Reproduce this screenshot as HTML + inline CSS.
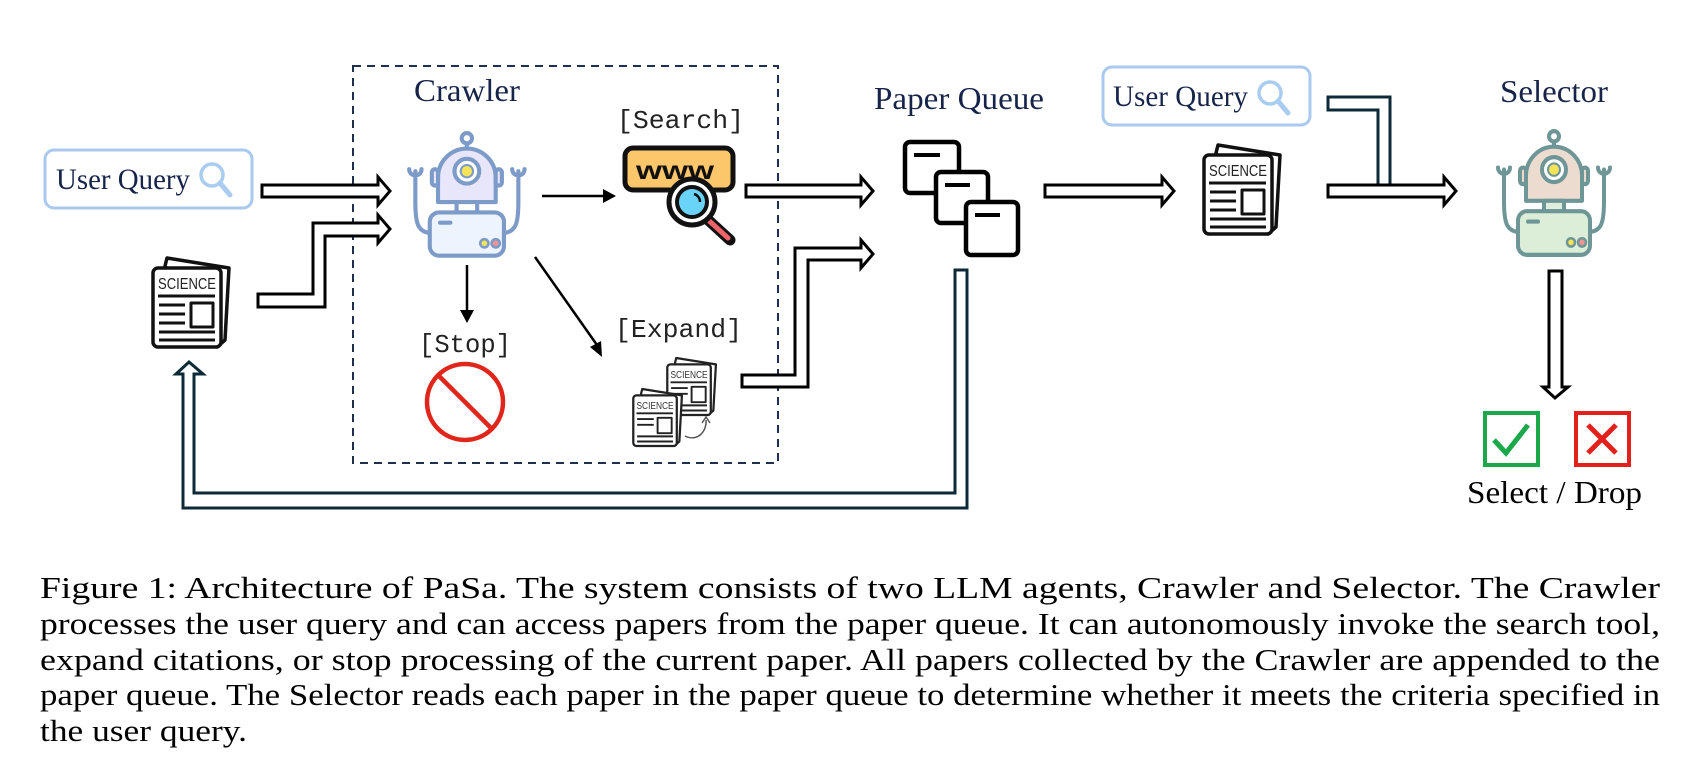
<!DOCTYPE html>
<html><head><meta charset="utf-8"><style>
html,body{margin:0;padding:0;background:#fff;}
svg{display:block;}
</style></head><body>
<svg width="1696" height="784" viewBox="0 0 1696 784" xmlns="http://www.w3.org/2000/svg">
<rect width="1696" height="784" fill="#fff"/>

<rect x="353" y="66" width="425" height="397" fill="none" stroke="#1f2f4f" stroke-width="2" stroke-dasharray="8,6"/>

<rect x="45" y="150" width="207" height="58" rx="9" fill="#fff" stroke="#a9c9ee" stroke-width="3"/>
<text x="56" y="189" font-family="Liberation Serif" font-size="30" fill="#16244a" textLength="134" lengthAdjust="spacingAndGlyphs">User Query</text>
<circle cx="212" cy="175" r="11" fill="none" stroke="#a9cdf0" stroke-width="3.5"/>
<line x1="220" y1="183" x2="230" y2="195" stroke="#a9cdf0" stroke-width="5" stroke-linecap="round"/>

<rect x="1103" y="67" width="207" height="58" rx="9" fill="#fff" stroke="#a9c9ee" stroke-width="3"/>
<text x="1113" y="106" font-family="Liberation Serif" font-size="30" fill="#16244a" textLength="135" lengthAdjust="spacingAndGlyphs">User Query</text>
<circle cx="1270" cy="93" r="11" fill="none" stroke="#a9cdf0" stroke-width="3.5"/>
<line x1="1278" y1="101" x2="1288" y2="113" stroke="#a9cdf0" stroke-width="5" stroke-linecap="round"/>

<text x="414" y="101" font-family="Liberation Serif" font-size="32" fill="#16244a" textLength="106" lengthAdjust="spacingAndGlyphs">Crawler</text>
<text x="874" y="109" font-family="Liberation Serif" font-size="32" fill="#16244a" textLength="170" lengthAdjust="spacingAndGlyphs">Paper Queue</text>
<text x="1500" y="102" font-family="Liberation Serif" font-size="32" fill="#16244a" textLength="108" lengthAdjust="spacingAndGlyphs">Selector</text>
<text x="1467" y="503" font-family="Liberation Serif" font-size="32" fill="#000" textLength="175" lengthAdjust="spacingAndGlyphs">Select / Drop</text>
<text x="617" y="128" font-family="Liberation Mono" font-size="26" fill="#222" textLength="127" lengthAdjust="spacingAndGlyphs">[Search]</text>
<text x="419" y="352" font-family="Liberation Mono" font-size="26" fill="#222" textLength="92" lengthAdjust="spacingAndGlyphs">[Stop]</text>
<text x="615" y="337" font-family="Liberation Mono" font-size="26" fill="#222" textLength="127" lengthAdjust="spacingAndGlyphs">[Expand]</text>

<g fill="#fff" stroke="#000" stroke-width="3" stroke-linejoin="miter">
<path d="M262,185 L378,185 L378,177 L390,191 L378,205 L378,197 L262,197 Z"/>
<path d="M258,294 L313,294 L313,223 L378,223 L378,215 L390,229 L378,243 L378,236 L325,236 L325,307 L258,307 Z"/>
<path d="M746,185 L861,185 L861,177 L873,191 L861,205 L861,197 L746,197 Z"/>
<path d="M742,375 L795,375 L795,248 L861,248 L861,240 L873,254 L861,268 L861,260 L808,260 L808,387 L742,387 Z"/>
<path d="M1045,185 L1162,185 L1162,177 L1174,191 L1162,205 L1162,197 L1045,197 Z"/>
<path d="M1328,97 L1390,97 L1390,185 L1378,185 L1378,110 L1328,110 Z" stroke="#0e2a38"/>
<path d="M1328,185 L1444,185 L1444,177 L1456,191 L1444,205 L1444,197 L1328,197 Z"/>
<path d="M1549,271 L1562,271 L1562,387 L1568,387 L1555,398 L1543,387 L1549,387 Z"/>
<path d="M955,270 L967,270 L967,508 L183,508 L183,374 L176,374 L189,362 L203,374 L194,374 L194,493 L955,493 Z" stroke="#0e2a38"/>
</g>

<g stroke="#000" stroke-width="2.5" fill="#000">
<line x1="542" y1="196" x2="605" y2="196"/><path d="M603,189 L616,196 L603,203 Z" stroke="none"/>
<line x1="467" y1="265" x2="467" y2="312"/><path d="M460,310 L467,323 L474,310 Z" stroke="none"/>
<line x1="535" y1="257" x2="597" y2="345"/><path d="M590,347 L602,357 L601,341 Z" stroke="none"/>
</g>

<g transform="translate(403,130) scale(1.03)" stroke="#7d9bc8" stroke-width="4" stroke-linejoin="round" stroke-linecap="round">
<circle cx="62" cy="8" r="5" fill="#fff"/>
<line x1="62" y1="13" x2="62" y2="20"/>
<path d="M34,70 L34,46 A28,28 0 0 1 90,46 L90,70 Z" fill="#e7e6fb"/>
<rect x="28" y="38" width="6" height="16" rx="3" fill="#e7e6fb"/>
<rect x="90" y="38" width="6" height="16" rx="3" fill="#e7e6fb"/>
<circle cx="62" cy="40" r="12" fill="#fff"/>
<circle cx="62" cy="40" r="6" fill="#f5e35a" stroke-width="2"/>
<rect x="52" y="70" width="20" height="10" fill="#fff"/>
<path d="M28,100 C14,100 12,90 12,70 L12,40 M6,38 C6,46 18,46 18,38" fill="none"/>
<path d="M96,100 C110,100 112,90 112,70 L112,40 M106,38 C106,46 118,46 118,38" fill="none"/>
<rect x="26" y="80" width="72" height="42" rx="9" fill="#eef4fd"/>
<line x1="36" y1="90" x2="46" y2="90"/>
<circle cx="79" cy="110" r="4" fill="#f5e35a" stroke-width="2.5"/>
<circle cx="90" cy="110" r="4" fill="#f29494" stroke-width="2.5"/>
</g>

<g transform="translate(1492,128) scale(1,1.04)" stroke="#6f9697" stroke-width="4" stroke-linejoin="round" stroke-linecap="round">
<circle cx="62" cy="8" r="5" fill="#fff"/>
<line x1="62" y1="13" x2="62" y2="20"/>
<path d="M34,70 L34,46 A28,28 0 0 1 90,46 L90,70 Z" fill="#ecdcd0"/>
<rect x="28" y="38" width="6" height="16" rx="3" fill="#ecdcd0"/>
<rect x="90" y="38" width="6" height="16" rx="3" fill="#ecdcd0"/>
<circle cx="62" cy="40" r="12" fill="#fff"/>
<circle cx="62" cy="40" r="6" fill="#f5e35a" stroke-width="2"/>
<rect x="52" y="70" width="20" height="10" fill="#dfeedd"/>
<path d="M28,100 C14,100 12,90 12,70 L12,40 M6,38 C6,46 18,46 18,38" fill="none"/>
<path d="M96,100 C110,100 112,90 112,70 L112,40 M106,38 C106,46 118,46 118,38" fill="none"/>
<rect x="26" y="80" width="72" height="42" rx="9" fill="#dcedd8"/>
<line x1="36" y1="90" x2="46" y2="90"/>
<circle cx="79" cy="110" r="4" fill="#f5e35a" stroke-width="2.5"/>
<circle cx="90" cy="110" r="4" fill="#f29494" stroke-width="2.5"/>
</g>

<g stroke="#111" stroke-width="5" stroke-linejoin="round">
<rect x="625" y="148" width="108" height="42" rx="8" fill="#fcc66a"/>
<text x="636" y="179" font-family="Liberation Sans" font-weight="bold" font-size="26" fill="#111" stroke="none" textLength="78" lengthAdjust="spacingAndGlyphs">www</text>
<line x1="706" y1="218" x2="730" y2="240" stroke="#111" stroke-width="11" stroke-linecap="round"/>
<line x1="706" y1="218" x2="728" y2="238" stroke="#f06469" stroke-width="5" stroke-linecap="round"/>
<circle cx="692" cy="202" r="23" fill="#fff"/>
<circle cx="692" cy="202" r="15" fill="#6ad3f8" stroke-width="4"/>
<path d="M694,194 A8,8 0 0 1 700,202" fill="none" stroke-width="2.5"/>
</g>

<circle cx="465" cy="402" r="38" fill="none" stroke="#e0261b" stroke-width="4.5"/>
<line x1="438" y1="375" x2="492" y2="429" stroke="#e0261b" stroke-width="4.5"/>

<g transform="translate(151,258)" stroke="#111" stroke-width="3.5" stroke-linejoin="round" fill="#fff">
<path d="M14,8 L16,0 L78,10 L74,82 L66,89 Z"/>
<rect x="2" y="10" width="68" height="79" rx="5"/>
<text x="7" y="31" font-family="Liberation Sans" font-size="16" fill="#222" stroke="none" textLength="58" lengthAdjust="spacingAndGlyphs">SCIENCE</text>
<line x1="7" y1="38" x2="64" y2="38" stroke-width="3"/>
<line x1="8" y1="47" x2="34" y2="47" stroke-width="3"/>
<line x1="8" y1="56" x2="34" y2="56" stroke-width="3"/>
<line x1="8" y1="65" x2="34" y2="65" stroke-width="3"/>
<rect x="40" y="45" width="22" height="24" stroke-width="3"/>
<line x1="8" y1="74" x2="64" y2="74" stroke-width="3"/>
<line x1="8" y1="82" x2="64" y2="82" stroke-width="3"/>
</g>

<g transform="translate(1202,145)" stroke="#111" stroke-width="3.5" stroke-linejoin="round" fill="#fff">
<path d="M14,8 L16,0 L78,10 L74,82 L66,89 Z"/>
<rect x="2" y="10" width="68" height="79" rx="5"/>
<text x="7" y="31" font-family="Liberation Sans" font-size="16" fill="#222" stroke="none" textLength="58" lengthAdjust="spacingAndGlyphs">SCIENCE</text>
<line x1="7" y1="38" x2="64" y2="38" stroke-width="3"/>
<line x1="8" y1="47" x2="34" y2="47" stroke-width="3"/>
<line x1="8" y1="56" x2="34" y2="56" stroke-width="3"/>
<line x1="8" y1="65" x2="34" y2="65" stroke-width="3"/>
<rect x="40" y="45" width="22" height="24" stroke-width="3"/>
<line x1="8" y1="74" x2="64" y2="74" stroke-width="3"/>
<line x1="8" y1="82" x2="64" y2="82" stroke-width="3"/>
</g>

<g transform="translate(666,358) scale(0.64)" stroke="#222" stroke-width="3.5" stroke-linejoin="round" fill="#fff">
<path d="M14,8 L16,0 L78,10 L74,82 L66,89 Z"/>
<rect x="2" y="10" width="68" height="79" rx="5"/>
<text x="7" y="31" font-family="Liberation Sans" font-size="16" fill="#333" stroke="none" textLength="58" lengthAdjust="spacingAndGlyphs">SCIENCE</text>
<line x1="7" y1="38" x2="64" y2="38" stroke-width="3"/>
<line x1="8" y1="47" x2="34" y2="47" stroke-width="3"/>
<line x1="8" y1="56" x2="34" y2="56" stroke-width="3"/>
<rect x="40" y="45" width="22" height="24" stroke-width="3"/>
<line x1="8" y1="74" x2="64" y2="74" stroke-width="3"/>
<line x1="8" y1="82" x2="64" y2="82" stroke-width="3"/>
</g>
<g transform="translate(632,389) scale(0.64)" stroke="#222" stroke-width="3.5" stroke-linejoin="round" fill="#fff">
<path d="M14,8 L16,0 L78,10 L74,82 L66,89 Z"/>
<rect x="2" y="10" width="68" height="79" rx="5"/>
<text x="7" y="31" font-family="Liberation Sans" font-size="16" fill="#333" stroke="none" textLength="58" lengthAdjust="spacingAndGlyphs">SCIENCE</text>
<line x1="7" y1="38" x2="64" y2="38" stroke-width="3"/>
<line x1="8" y1="47" x2="34" y2="47" stroke-width="3"/>
<line x1="8" y1="56" x2="34" y2="56" stroke-width="3"/>
<rect x="40" y="45" width="22" height="24" stroke-width="3"/>
<line x1="8" y1="74" x2="64" y2="74" stroke-width="3"/>
<line x1="8" y1="82" x2="64" y2="82" stroke-width="3"/>
</g>
<path d="M685,436 C697,442 707,432 706,420 M702,423 L706,417 L710,423" fill="none" stroke="#555" stroke-width="1.5"/>

<g stroke="#000" stroke-width="4.5" fill="#fff">
<rect x="905" y="142" width="54" height="51" rx="5"/>
<line x1="914" y1="155" x2="940" y2="155" stroke-width="4"/>
<rect x="936" y="172" width="52" height="51" rx="5"/>
<line x1="945" y1="185" x2="970" y2="185" stroke-width="4"/>
<rect x="966" y="202" width="52" height="53" rx="5"/>
<line x1="975" y1="215" x2="1000" y2="215" stroke-width="4"/>
</g>

<rect x="1485" y="413" width="53" height="52" fill="#fff" stroke="#1aa84a" stroke-width="4"/>
<path d="M1494,440 L1506,453 L1528,425" fill="none" stroke="#1aa84a" stroke-width="5"/>
<rect x="1576" y="413" width="53" height="52" fill="#fff" stroke="#e3211c" stroke-width="4"/>
<path d="M1588,425 L1616,453 M1616,425 L1588,453" stroke="#e3211c" stroke-width="5"/>

<g font-family="Liberation Serif" font-size="31" fill="#000">
<text x="40" y="598" textLength="1620" lengthAdjust="spacingAndGlyphs">Figure 1:  Architecture of PaSa.  The system consists of two LLM agents, Crawler and Selector.  The Crawler</text>
<text x="40" y="634" textLength="1620" lengthAdjust="spacingAndGlyphs">processes the user query and can access papers from the paper queue. It can autonomously invoke the search tool,</text>
<text x="40" y="670" textLength="1620" lengthAdjust="spacingAndGlyphs">expand citations, or stop processing of the current paper. All papers collected by the Crawler are appended to the</text>
<text x="40" y="705" textLength="1620" lengthAdjust="spacingAndGlyphs">paper queue. The Selector reads each paper in the paper queue to determine whether it meets the criteria specified in</text>
<text x="40" y="741" textLength="207" lengthAdjust="spacingAndGlyphs">the user query.</text>
</g>
</svg>
</body></html>
